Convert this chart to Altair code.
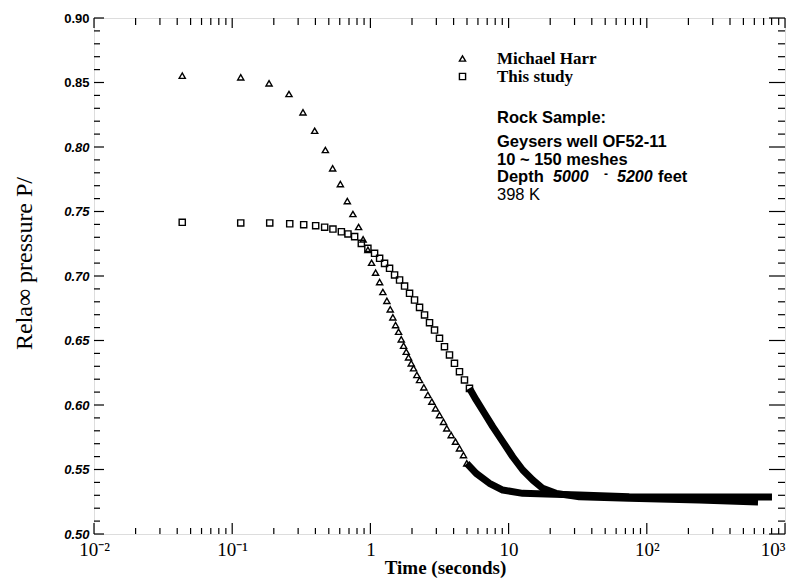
import altair as alt
import pandas as pd

# ---------------- data ----------------
series_names = ["Michael Harr", "This study"]

# Michael Harr: individually visible triangles
harr_marker_t = [0.0435, 0.1153, 0.1848, 0.2576, 0.3253, 0.3952, 0.4722, 0.5332, 0.6062,
                 0.6808, 0.7474, 0.8217, 0.8857, 0.959, 1.020, 1.090, 1.166, 1.231, 1.316,
                 1.392, 1.454, 1.521, 1.599, 1.672, 1.738, 1.817, 1.888, 1.975, 2.052,
                 2.168, 2.268, 2.436, 2.603, 2.782, 2.959, 3.162, 3.380, 3.570, 3.842,
                 4.127, 4.411, 4.715, 4.981]
harr_marker_p = [0.8553, 0.8540, 0.8494, 0.8411, 0.8269, 0.8126, 0.7977, 0.7835, 0.7713,
                 0.7581, 0.7481, 0.7380, 0.7284, 0.7202, 0.7103, 0.7026, 0.6953, 0.6876,
                 0.6808, 0.6742, 0.6680, 0.6620, 0.6568, 0.6509, 0.6460, 0.6413, 0.6370,
                 0.6323, 0.6285, 0.6233, 0.6194, 0.6137, 0.6078, 0.6026, 0.5974, 0.5922,
                 0.5870, 0.5819, 0.5767, 0.5716, 0.5664, 0.5612, 0.5548]
# Michael Harr: dense part where the triangles merge into a solid band
harr_band_t = [4.981, 5.825, 7.265, 9.066, 12.65, 18.66, 32.49, 74.6, 239.0, 805.0]
harr_band_p = [0.5548, 0.5470, 0.5393, 0.5341, 0.5315, 0.5310, 0.5302, 0.5289, 0.5287, 0.5287]

# This study: individually visible squares
study_marker_t = [0.0435, 0.1153, 0.1869, 0.2608, 0.3291, 0.4018, 0.4667, 0.5358, 0.6164,
                  0.6881, 0.7689, 0.8597, 0.959, 1.072, 1.166, 1.266, 1.376, 1.496, 1.626,
                  1.767, 1.920, 2.086, 2.268, 2.465, 2.678, 2.911, 3.162, 3.436, 3.735,
                  4.058, 4.411, 4.794, 5.210]
study_marker_p = [0.7416, 0.7411, 0.7411, 0.7405, 0.7398, 0.7390, 0.7378, 0.7364, 0.7343,
                  0.7326, 0.7305, 0.7253, 0.7215, 0.7176, 0.7137, 0.7098, 0.7060, 0.7008,
                  0.6969, 0.6922, 0.6866, 0.6814, 0.6757, 0.6698, 0.6638, 0.6581, 0.6517,
                  0.6452, 0.6388, 0.6323, 0.6258, 0.6194, 0.6129]
# This study: dense part
study_band_t = [5.210, 5.825, 6.687, 7.676, 9.066, 10.71, 12.65, 14.94, 17.64, 22.03,
                32.49, 74.6, 239.0, 638.0]
study_band_p = [0.6129, 0.6039, 0.5936, 0.5832, 0.5716, 0.5599, 0.5496, 0.5419, 0.5354,
                0.5315, 0.5289, 0.5277, 0.5264, 0.5248]

x_major = [0.01, 0.1, 1, 10, 100, 1000]
x_labels = ["10⁻²", "10⁻¹", "1", "10", "10²", "10³"]
x_minor = [0.02, 0.03, 0.04, 0.05, 0.06, 0.07, 0.08, 0.09,
           0.2, 0.3, 0.4, 0.5, 0.6, 0.7, 0.8, 0.9,
           2, 3, 4, 5, 6, 7, 8, 9,
           20, 30, 40, 50, 60, 70, 80, 90,
           200, 300, 400, 500, 600, 700, 800, 900]
y_major = [0.50, 0.55, 0.60, 0.65, 0.70, 0.75, 0.80, 0.85, 0.90]
y_minor = [0.51, 0.52, 0.53, 0.54, 0.56, 0.57, 0.58, 0.59, 0.61, 0.62, 0.63, 0.64,
           0.66, 0.67, 0.68, 0.69, 0.71, 0.72, 0.73, 0.74, 0.76, 0.77, 0.78, 0.79,
           0.81, 0.82, 0.83, 0.84, 0.86, 0.87, 0.88, 0.89]

x_title = "Time (seconds)"
y_title = "Rela∞ pressure P/"
note_lines = ["Rock Sample:", "Geysers well OF52-11", "10 ~ 150 meshes"]
depth_parts = ["Depth", "5000", "-", "5200", "feet"]
temp_line = "398 K"

# ---------------- build ----------------
W, H = 691, 516

markers = pd.concat([
    pd.DataFrame({"t": harr_marker_t, "p": harr_marker_p, "series": series_names[0]}),
    pd.DataFrame({"t": study_marker_t, "p": study_marker_p, "series": series_names[1]}),
])
bands = pd.concat([
    pd.DataFrame({"t": harr_band_t, "p": harr_band_p, "series": series_names[0]}),
    pd.DataFrame({"t": study_band_t, "p": study_band_p, "series": series_names[1]}),
])

xscale = alt.Scale(type="log", domain=[0.01, 1000], nice=False)
yscale = alt.Scale(domain=[0.5, 0.9], zero=False, nice=False)

label_expr = " : ".join(f"datum.value == {v} ? '{l}'" for v, l in zip(x_major, x_labels)) + " : ''"

x_axis = alt.Axis(values=x_major, labelExpr=label_expr, ticks=False, domain=False, grid=False,
                  labelFont="Liberation Serif", labelFontSize=19, labelPadding=6,
                  labelAlign={"expr": "datum.value >= 1000 ? 'right' : 'center'"},
                  labelColor="black", labelFlush=False,
                  title=x_title, titleFont="Liberation Serif", titleFontSize=19,
                  titleFontWeight="bold", titleColor="black", titleX=351, titleY=33,
                  titleBaseline="middle", titleAlign="center")
y_axis = alt.Axis(values=y_major, format=".2f", ticks=False, domain=False, grid=False,
                  labelFont="Liberation Sans", labelFontSize=13, labelFontWeight="bold",
                  labelFontStyle={"expr": "datum.value >= 0.845 ? 'normal' : 'italic'"},
                  labelPadding=5, labelColor="black", labelFlush=False,
                  title=y_title, titleFont="Liberation Serif", titleFontSize=24,
                  titleFontWeight="normal", titleColor="black", titleAngle=270,
                  titleX=-70, titleY=245, titleAlign="center", titleBaseline="middle")

shape_scale = alt.Scale(domain=series_names, range=["triangle-up", "square"])

pts = alt.Chart(markers).mark_point(filled=False, color="black", strokeWidth=1.4, size=38, opacity=1).encode(
    x=alt.X("t:Q", scale=xscale, axis=x_axis),
    y=alt.Y("p:Q", scale=yscale, axis=y_axis),
    shape=alt.Shape("series:N", scale=shape_scale,
                    legend=alt.Legend(orient="none", legendX=360, legendY=32, title=None,
                                      padding=0, labelFont="Liberation Serif", labelFontSize=17,
                                      labelFontWeight="bold", labelColor="black",
                                      symbolStrokeColor="black", symbolFillColor="white",
                                      symbolStrokeWidth=1.4, symbolSize=38,
                                      labelOffset=26, rowPadding=0)),
)

band = alt.Chart(bands).mark_line(color="black", strokeWidth=7, strokeCap="butt",
                                  strokeJoin="round").encode(
    x=alt.X("t:Q", scale=xscale, axis=x_axis),
    y=alt.Y("p:Q", scale=yscale, axis=y_axis),
    detail="series:N",
    order="t:Q",
)


def xticks(vals, y0, y1):
    return alt.Chart(pd.DataFrame({"v": vals})).mark_rule(color="black", strokeWidth=1.2).encode(
        x=alt.X("v:Q", scale=xscale, axis=x_axis), y=alt.value(y0), y2=alt.value(y1))


def yticks(vals, x0, x1):
    return alt.Chart(pd.DataFrame({"v": vals})).mark_rule(color="black", strokeWidth=1.2).encode(
        y=alt.Y("v:Q", scale=yscale, axis=y_axis), x=alt.value(x0), x2=alt.value(x1))


tick_layers = [
    xticks(x_major, H, H - 11), xticks(x_minor, H, H - 6),
    xticks(x_major, 0, 10), xticks(x_minor, 0, 7),
    yticks(y_major, 0, 10), yticks(y_minor, 0, 6),
    yticks(y_major, W, W - 16), yticks(y_minor, W, W - 7),
]


def note(txt, x, y, weight="bold", style="normal", size=16.5):
    return alt.Chart(pd.DataFrame({"s": [txt]})).mark_text(
        align="left", baseline="middle", font="Liberation Sans", fontSize=size,
        fontWeight=weight, fontStyle=style, color="black").encode(
        text="s:N", x=alt.value(x), y=alt.value(y))


notes = [
    note(note_lines[0], 403, 100),
    note(note_lines[1], 403, 123.5),
    note(note_lines[2], 403, 141.5),
    note(depth_parts[0], 403, 159),
    note(depth_parts[1], 459, 159, style="italic", size=16),
    note(depth_parts[2], 510, 156, size=12),
    note(depth_parts[3], 523, 159, style="italic", size=16),
    note(depth_parts[4], 564, 159),
    note(temp_line, 403, 176.5, weight="normal"),
]

chart = alt.layer(pts, band, *tick_layers, *notes).properties(
    width=W, height=H,
    autosize=alt.AutoSizeParams(type="none"),
    padding={"left": 86, "top": 10, "right": 5, "bottom": 46},
).configure_view(stroke="black", strokeWidth=1.5).configure(background="white")

chart.save("out.html", embed_options={"renderer": "svg", "actions": False})
